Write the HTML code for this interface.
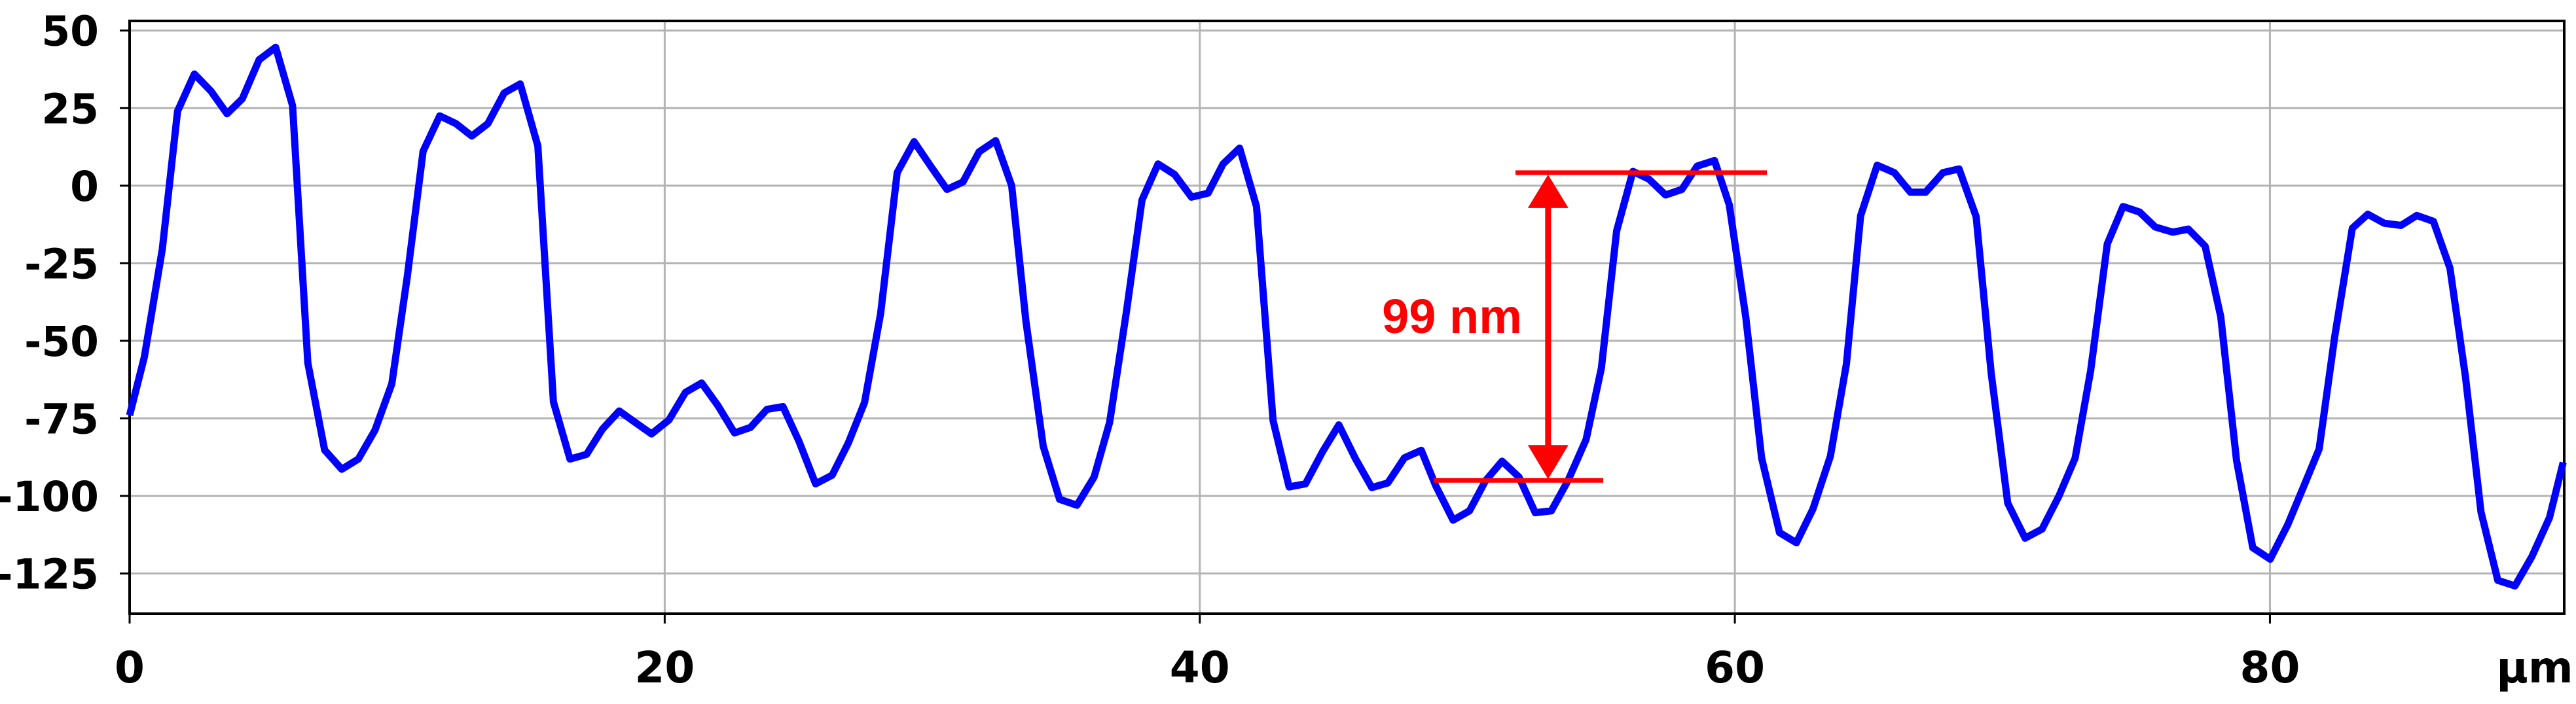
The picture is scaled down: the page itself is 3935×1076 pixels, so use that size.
<!DOCTYPE html>
<html><head><meta charset="utf-8">
<style>
html,body{margin:0;padding:0;background:#fff;}
svg{display:block;}
</style></head>
<body>
<svg id="chart" width="3935" height="1076" viewBox="0 0 3935 1076" xmlns="http://www.w3.org/2000/svg"></svg>
<script>
const xPos = [0,0.55,1.22,1.79,2.42,3.04,3.64,4.21,4.84,5.46,6.09,6.66,7.29,7.93,8.55,9.17,9.8,10.38,10.97,11.59,12.2,12.79,13.39,14.0,14.6,15.26,15.84,16.46,17.08,17.68,18.3,18.88,19.51,20.16,20.78,21.38,21.99,22.61,23.21,23.82,24.42,25.02,25.64,26.26,26.86,27.47,28.07,28.69,29.32,29.94,30.55,31.15,31.75,32.37,32.97,33.5,34.15,34.76,35.41,36.05,36.63,37.26,37.84,38.44,39.06,39.69,40.31,40.87,41.49,42.12,42.74,43.34,43.95,44.6,45.2,45.82,46.43,47.03,47.65,48.28,48.82,49.47,50.08,50.68,51.3,51.93,52.54,53.14,53.76,54.44,55.01,55.58,56.19,56.79,57.41,58.02,58.59,59.24,59.79,60.41,61.0,61.67,62.3,62.92,63.57,64.17,64.7,65.32,65.96,66.56,67.13,67.78,68.38,69.02,69.58,70.2,70.85,71.48,72.11,72.72,73.3,73.92,74.51,75.13,75.71,76.37,76.95,77.58,78.16,78.75,79.36,80.01,80.67,81.25,81.84,82.42,83.08,83.66,84.27,84.9,85.49,86.11,86.73,87.31,87.89,88.52,89.16,89.79,90.45,90.96];
const heights = [-74,-55.2,-20.5,24,36,30.5,23.2,28,40.6,44.6,25.8,-57.1,-85.2,-91.4,-88.1,-78.8,-63.9,-29.2,11.1,22.5,20,16,20,29.9,32.8,12.8,-69.7,-88.1,-86.6,-78.4,-72.6,-76.2,-80,-75.5,-66.6,-63.6,-70.9,-79.7,-77.9,-72.1,-71.2,-82.4,-96.1,-93.3,-83,-69.9,-41.2,4.2,14.2,6.3,-1.2,1.2,10.9,14.5,0,-43.6,-84,-101.1,-103,-93.9,-76.3,-40.6,-4.6,7,3.6,-3.7,-2.4,7,12.1,-6.7,-75.7,-97.1,-96.1,-85.6,-77.1,-88,-97.3,-95.8,-87.7,-85.3,-96.7,-107.8,-104.8,-95.1,-88.8,-93.9,-105.4,-104.8,-95.1,-81.8,-58.8,-14.6,4.6,2.1,-3,-1.2,6.3,8.1,-6.1,-42.4,-87.8,-111.8,-115.1,-104.2,-87.2,-57.5,-9.7,6.6,4.2,-2.1,-2.1,4.2,5.4,-10,-60.3,-102.3,-113.6,-110.7,-100.1,-87.8,-59.6,-18.8,-6.7,-8.5,-13.3,-15,-14,-19.5,-42.2,-88.5,-116.7,-120.4,-109.2,-97.2,-84.9,-48.7,-13.7,-9.2,-12.1,-12.8,-9.6,-11.5,-26.6,-61.7,-105.2,-127.2,-129,-119.6,-107,-89.2];
const yTicks = [50,25,0,-25,-50,-75,-100,-125];
const xTicks = [0,20,40,60,80];
const xGrid = [20,40,60,80];
const annTop = 4.2;
const annBottom = -95;
const annArrowX = 53.02;
const annTopRange = [51.8,61.2];
const annBottomRange = [48.74,55.08];
const annLabel = "99 nm";

const NS = "http://www.w3.org/2000/svg";
const svg = document.getElementById('chart');
const L=198, R=3917, T=32, B=938;
const X = u => L + u*(R-L)/91.0;
const Y = v => 46.7 + (50 - v)*4.742;
function mk(tag, attrs, parent){
  const e=document.createElementNS(NS,tag);
  for(const k in attrs) e.setAttribute(k, attrs[k]);
  (parent||svg).appendChild(e); return e;
}
yTicks.forEach(v=>{
  const g=mk('line',{x1:L,x2:R,y1:Y(v),y2:Y(v),stroke:'#b3b3b3','stroke-width':3});
  
  
  const t=mk('line',{x1:183,x2:L,y1:Y(v),y2:Y(v),stroke:'#000','stroke-width':3});
  
  
  const lb=mk('text',{x:151,y:Y(v)+23,'text-anchor':'end','font-family':'"DejaVu Sans", sans-serif','font-weight':'bold','font-size':63,fill:'#000'});
  lb.textContent=String(v);
  
  
});
xGrid.forEach(u=>{
  const g=mk('line',{x1:X(u),x2:X(u),y1:T,y2:B,stroke:'#b3b3b3','stroke-width':3});
  
  
});
xTicks.forEach(u=>{
  const t=mk('line',{x1:X(u),x2:X(u),y1:B,y2:953,stroke:'#000','stroke-width':3});
  
  
  const lb=mk('text',{x:X(u),y:1043,'text-anchor':'middle','font-family':'"DejaVu Sans", sans-serif','font-weight':'bold','font-size':66,fill:'#000'});
  lb.textContent=String(u);
  
  
});
const unit=mk('text',{x:3872,y:1043,'text-anchor':'middle','font-family':'"DejaVu Sans", sans-serif','font-weight':'bold','font-size':66,fill:'#000'});
unit.textContent='µm';


const fr=mk('rect',{x:L,y:T,width:R-L,height:B-T,fill:'none',stroke:'#000','stroke-width':4});


const pts=xPos.map((u,i)=>X(u).toFixed(1)+','+Y(heights[i]).toFixed(1)).join(' ');
const line=mk('polyline',{points:pts,fill:'none',stroke:'#0000ff','stroke-width':11,'stroke-linejoin':'round'});


const ht=mk('line',{x1:X(annTopRange[0]),x2:X(annTopRange[1]),y1:Y(annTop),y2:Y(annTop),stroke:'#ff0000','stroke-width':7});


const hb=mk('line',{x1:X(annBottomRange[0]),x2:X(annBottomRange[1]),y1:Y(annBottom),y2:Y(annBottom),stroke:'#ff0000','stroke-width':7});


const ax=X(annArrowX), yt=Y(annTop)+3, yb=Y(annBottom)-2;
const sh=mk('line',{x1:ax,x2:ax,y1:yt+50,y2:yb-50,stroke:'#ff0000','stroke-width':9});


const h1=mk('polygon',{points:`${ax},${yt} ${ax-31},${yt+51} ${ax+31},${yt+51}`,fill:'#ff0000'});


const h2=mk('polygon',{points:`${ax},${yb} ${ax-31},${yb-52} ${ax+31},${yb-52}`,fill:'#ff0000'});


const at=mk('text',{x:2325,y:509,'text-anchor':'end','font-family':'"Liberation Sans", sans-serif','font-weight':'bold','font-size':74,fill:'#ff0000'});
at.textContent=annLabel;


</script>
</body></html>
